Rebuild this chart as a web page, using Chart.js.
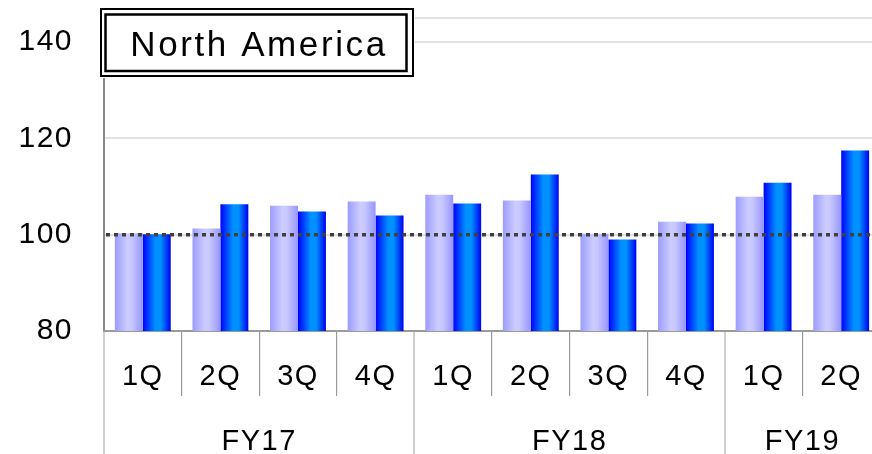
<!DOCTYPE html>
<html>
<head>
<meta charset="utf-8">
<script src="https://cdn.jsdelivr.net/npm/chart.js@4"></script>
<style>
    html, body { margin: 0; padding: 0; background: #fff; overflow: hidden; }
    #wrap { width: 872px; height: 454px; overflow: hidden; }
</style>
</head>
<body>
<div id="wrap"><canvas id="chart" width="880" height="454"></canvas></div>
<script>
// Chart data
const quarters = ['1Q', '2Q', '3Q', '4Q', '1Q', '2Q', '3Q', '4Q', '1Q', '2Q'];
const years = ['FY17', 'FY18', 'FY19'];
const quartersPerYear = [4, 4, 2];
const seriesA = [100.3, 101.3, 106.0, 106.9, 108.3, 107.1, 100.2, 102.7, 107.9, 108.3];
const seriesB = [100.1, 106.3, 104.8, 104.0, 106.5, 112.5, 99.0, 102.3, 110.8, 117.5];
const yTicks = [80, 100, 120, 140];
const yMin = 80;
const yMax = 145;
const refValue = 100;
const titleText = 'North America';

const FONT = "'Liberation Sans', Arial, sans-serif";
const CAT_PCT = 0.72;

// year boundaries and label centres on a 0..n scale
const yearBounds = [0];
quartersPerYear.forEach(n => yearBounds.push(yearBounds[yearBounds.length - 1] + n));
const yearCentres = years.map((y, i) => (yearBounds[i] + yearBounds[i + 1]) / 2);

// Horizontal gradient for each bar, placed from the x scale
function barGradient(stops, fallback) {
    return function (ctx) {
        const chart = ctx.chart;
        if (!chart.chartArea || ctx.dataIndex === undefined || !chart.scales.x) return fallback;
        const xs = chart.scales.x;
        const catW = xs.width / quarters.length;
        const bw = catW * CAT_PCT / 2;
        const centre = xs.getPixelForValue(ctx.dataIndex);
        const left = ctx.datasetIndex === 0 ? centre - bw : centre;
        const g = chart.ctx.createLinearGradient(left, 0, left + bw, 0);
        stops.forEach(s => g.addColorStop(s[0], s[1]));
        return g;
    };
}

// Slightly wider text spacing, like the original
const spacing = {
    id: 'spacing',
    beforeDraw(chart) {
        chart.ctx.letterSpacing = '1.5px';
    }
};

// Dotted reference line at 100
const refLine = {
    id: 'refLine',
    afterDatasetsDraw(chart) {
        const { ctx, chartArea } = chart;
        const y = chart.scales.y.getPixelForValue(refValue);
        ctx.save();
        ctx.strokeStyle = '#404040';
        ctx.lineWidth = 3.5;
        ctx.setLineDash([4, 4]);
        ctx.beginPath();
        ctx.moveTo(chartArea.left + 2, y);
        ctx.lineTo(chartArea.right, y);
        ctx.stroke();
        ctx.restore();
    }
};

// Double bordered title box
const titleBox = {
    id: 'titleBox',
    afterDraw(chart) {
        const { ctx, chartArea } = chart;
        const x0 = chartArea.left - 3;
        ctx.save();
        ctx.fillStyle = '#fff';
        ctx.fillRect(x0 - 1, 8, 315, 70);
        ctx.strokeStyle = '#000';
        ctx.lineWidth = 2;
        ctx.strokeRect(x0, 9, 312, 67);
        ctx.lineWidth = 2.5;
        ctx.strokeRect(x0 + 4.5, 14.5, 301, 56.5);
        ctx.fillStyle = '#000';
        ctx.font = '35px ' + FONT;
        ctx.letterSpacing = '2.6px';
        ctx.textAlign = 'center';
        ctx.textBaseline = 'alphabetic';
        ctx.fillText(titleText, x0 + 158, 56);
        ctx.restore();
    }
};

function isYearBound(c) {
    return c.tick !== undefined && yearBounds.includes(c.tick.value);
}

function noPadding(scale) {
    scale.paddingTop = 0;
    scale.paddingBottom = 0;
    scale.paddingLeft = 0;
    scale.paddingRight = 0;
}

document.addEventListener('DOMContentLoaded', () => {
    const ctx = document.getElementById('chart').getContext('2d');
    new Chart(ctx, {
        type: 'bar',
        data: {
            labels: quarters,
            datasets: [
                {
                    label: 'Series A',
                    data: seriesA,
                    backgroundColor: barGradient([[0, '#9c9cff'], [0.45, '#ccccff'], [0.6, '#c8c8ff'], [1, '#9696ff']], '#b8b8ff'),
                    borderWidth: 0,
                    barPercentage: 1,
                    categoryPercentage: CAT_PCT
                },
                {
                    label: 'Series B',
                    data: seriesB,
                    backgroundColor: barGradient([[0, '#0000ff'], [0.45, '#0090ff'], [0.65, '#0090ff'], [1, '#0000f0']], '#0066ff'),
                    borderWidth: 0,
                    barPercentage: 1,
                    categoryPercentage: CAT_PCT
                }
            ]
        },
        options: {
            responsive: false,
            animation: false,
            layout: { padding: { top: 18, left: 0, right: 0, bottom: 0 } },
            plugins: {
                legend: { display: false },
                title: { display: false },
                tooltip: { enabled: false }
            },
            scales: {
                y: {
                    min: yMin,
                    max: yMax,
                    afterBuildTicks: axis => {
                        axis.ticks = yTicks.concat([yMax]).map(v => ({ value: v }));
                    },
                    afterFit: scale => { scale.width = 104; noPadding(scale); },
                    ticks: {
                        color: '#000',
                        font: { family: FONT, size: 30 },
                        padding: 31,
                        callback: v => yTicks.includes(v) ? String(v) : ''
                    },
                    grid: {
                        color: '#e2e2e2',
                        lineWidth: 2,
                        drawTicks: false
                    },
                    border: { color: '#888888', width: 2 }
                },
                x: {
                    weight: 0,
                    afterFit: scale => { scale.height = 65; noPadding(scale); },
                    ticks: {
                        color: '#000',
                        font: { family: FONT, size: 29 },
                        padding: -36,
                        autoSkip: false,
                        maxRotation: 0
                    },
                    grid: {
                        offset: true,
                        drawOnChartArea: false,
                        drawTicks: true,
                        tickLength: 65,
                        color: c => yearBounds.includes(c.index) ? '#cfcfcf' : '#9a9a9a',
                        lineWidth: c => yearBounds.includes(c.index) ? 2 : 1.2
                    },
                    border: { color: '#9a9a9a', width: 2 }
                },
                x2: {
                    type: 'linear',
                    position: 'bottom',
                    weight: 1,
                    offset: false,
                    min: 0,
                    max: quarters.length,
                    afterBuildTicks: axis => {
                        axis.ticks = yearBounds.concat(yearCentres).sort((a, b) => a - b).map(v => ({ value: v }));
                    },
                    afterFit: scale => { scale.height = 58; noPadding(scale); },
                    ticks: {
                        color: '#000',
                        font: { family: FONT, size: 29 },
                        padding: -29,
                        autoSkip: false,
                        maxRotation: 0,
                        callback: v => {
                            const i = yearCentres.indexOf(v);
                            return i >= 0 ? years[i] : '';
                        }
                    },
                    grid: {
                        offset: false,
                        drawOnChartArea: false,
                        drawTicks: true,
                        tickLength: 58,
                        color: c => isYearBound(c) ? '#cfcfcf' : 'rgba(0,0,0,0)',
                        lineWidth: 2
                    },
                    border: { display: false }
                }
            }
        },
        plugins: [spacing, refLine, titleBox]
    });
});
</script>
</body>
</html>
